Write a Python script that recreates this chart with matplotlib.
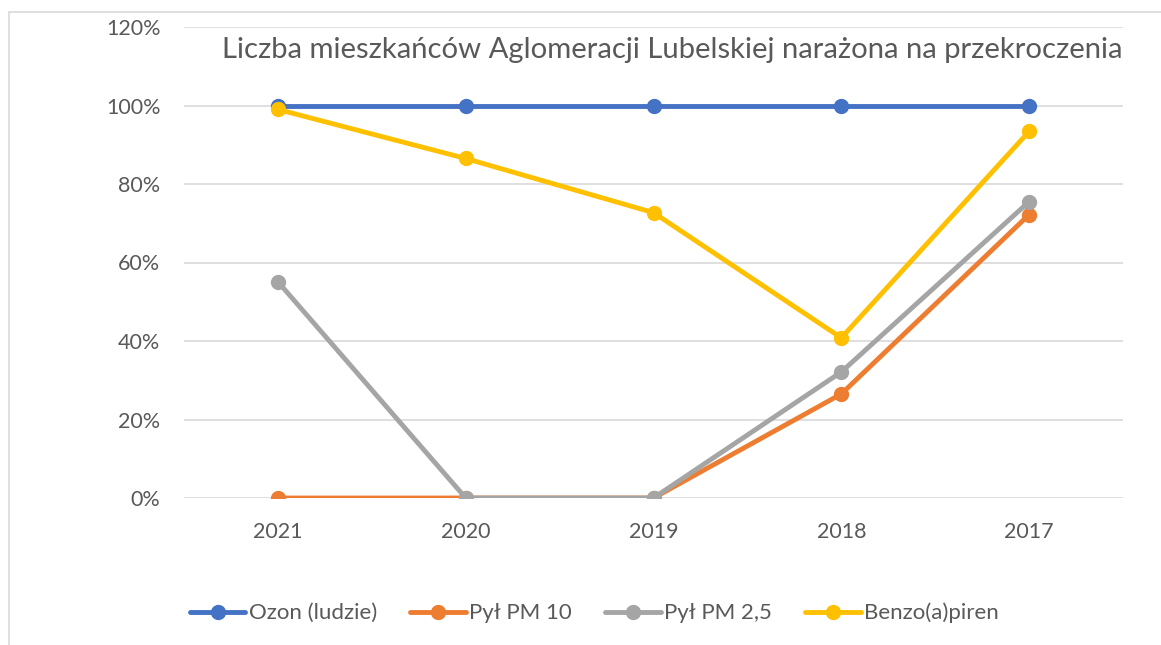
import numpy as np
from matplotlib import pyplot as plt
from matplotlib.patches import Rectangle

years = ['2021', '2020', '2019', '2018', '2017']
ozon = [1.00, 1.00, 1.00, 1.00, 1.00]
pm10 = [0.0, 0.0, 0.0, 0.265, 0.722]
pm25 = [0.551, 0.0, 0.0, 0.321, 0.755]
benzo = [0.99, 0.865, 0.727, 0.408, 0.934]
names = ['Ozon (ludzie)', 'Pył PM 10', 'Pył PM 2,5', 'Benzo(a)piren']
colors = ['#4472C4', '#ED7D31', '#A5A5A5', '#FFC000']
title = 'Liczba mieszkańców Aglomeracji Lubelskiej narażona na przekroczenia'

plt.rcParams['font.family'] = ['Lato', 'DejaVu Sans']
txt = '#595959'

fig = plt.figure(figsize=(11.61, 6.45), dpi=100)
W, H = 1161, 645
ax = fig.add_axes([184 / W, 1 - 498 / H, (1123 - 184) / W, (498 - 27) / H])

# chart frame (cut off on right and bottom like the screenshot)
fig.patches.append(Rectangle((9 / W, -0.1), 1.2, 1 - 12 / H + 0.1, transform=fig.transFigure,
                             fill=False, edgecolor='#D9D9D9', linewidth=1.2))

x = np.arange(len(years))
for vals, name, c in zip([ozon, pm10, pm25, benzo], names, colors):
    ax.plot(x, vals, color=c, linewidth=3.5, marker='o', markersize=10,
            label=name, solid_capstyle='round')

ax.set_xlim(-0.5, len(years) - 0.5)
ax.set_ylim(0, 1.2)
ax.set_yticks(np.arange(0, 1.21, 0.2))
ax.set_yticklabels([f'{int(round(v * 100))}%' for v in np.arange(0, 1.21, 0.2)])
ax.set_xticks(x)
ax.set_xticklabels(years)
ax.tick_params(axis='both', length=0, labelsize=15.5, colors=txt)
ax.tick_params(axis='y', pad=17)
ax.tick_params(axis='x', pad=17)
for s in ax.spines.values():
    s.set_visible(False)
ax.grid(axis='y', color='#D9D9D9', linewidth=1.2)
ax.set_axisbelow(True)

fig.text(1123 / W, 1 - 50 / H, title, ha='right', va='center', fontsize=21.1, color=txt)

leg = fig.legend(loc='center', bbox_to_anchor=(0.512, 1 - 613 / H), ncol=4, frameon=False,
                 fontsize=16, handlelength=2.5, handletextpad=0.15, columnspacing=1.5)
for t in leg.get_texts():
    t.set_color(txt)

plt.savefig('out.png', dpi=100)
